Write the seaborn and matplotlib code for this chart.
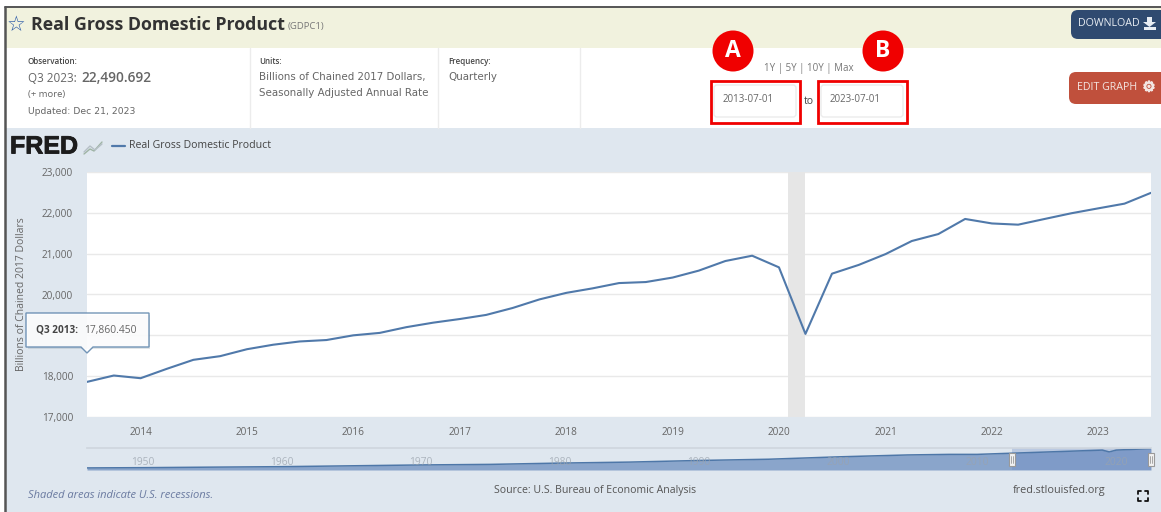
import pandas as pd
import seaborn as sns
import matplotlib.pyplot as plt
import matplotlib.dates as mdates
import matplotlib.patheffects as pe
from matplotlib.patches import Rectangle, Circle, FancyBboxPatch, Polygon
from matplotlib.ticker import FuncFormatter

# Quarterly real GDP, Q3 2013 to Q3 2023
QUARTERS = pd.date_range("2013-07-01", "2023-07-01", freq="QS")
GDP = [17860, 18016, 17950, 18180, 18400, 18490, 18660, 18770, 18850, 18885,
       19000, 19060, 19200, 19310, 19400, 19500, 19670, 19880, 20040, 20150,
       20280, 20305, 20415, 20585, 20820, 20950, 20665, 19035, 20510, 20725,
       20990, 21310, 21480, 21850, 21740, 21710, 21850, 21990, 22110, 22225,
       22490]

# Long history for the navigator strip
HIST_YEARS = [1946, 1950, 1955, 1960, 1965, 1970, 1975, 1980, 1985, 1990,
              1995, 2000, 2005, 2008, 2010, 2015, 2019, 2019.5, 2020, 2022.5]
HIST_GDP = [2180, 2460, 3000, 3500, 4400, 5300, 5900, 7250, 8300, 10000,
            11300, 13800, 15800, 16400, 16400, 18900, 20900, 19000, 20900, 22490]
NAV_TICKS = [1950, 1960, 1970, 1980, 1990, 2000, 2010, 2020]

Y_TICKS = [17000, 18000, 19000, 20000, 21000, 22000, 23000]
Y_HIDDEN = 19000  # label sits behind the tooltip in the reference
X_YEARS = list(range(2014, 2024))

W, H = 1161, 512
PANEL = "#dfe7ef"
LINE = "#5079aa"
TXT = "#666666"

sns.set_theme(style="white")
plt.rcParams["font.family"] = ["Open Sans", "DejaVu Sans"]

fig = plt.figure(figsize=(W / 100, H / 100), dpi=100, facecolor="white")


def px_axes(x0, y0, x1, y1, zorder):
    # axes placed by pixel box, y measured from the top of the figure
    return fig.add_axes([x0 / W, 1 - y1 / H, (x1 - x0) / W, (y1 - y0) / H], zorder=zorder)


# page furniture below the charts
bg = px_axes(0, 0, W, H, 0)
bg.set_xlim(0, W)
bg.set_ylim(H, 0)
bg.axis("off")
bg.add_patch(Rectangle((5, 8), W, 40, fc="#f1f2de", ec="none"))
bg.add_patch(Rectangle((5, 128), W, H, fc=PANEL, ec="none"))
bg.plot([5, 5], [7, H], color="#555555", lw=1.8)
bg.plot([5, W], [7, 7], color="#555555", lw=1.4)
for xd in [250, 438, 580]:
    bg.plot([xd, xd], [48, 128], color="#ececec", lw=1)

# main chart
df = pd.DataFrame({"date": QUARTERS, "gdp": GDP})
ax = px_axes(87, 172, 1151, 417, 1)
ax.set_facecolor("white")
ax.axvspan(pd.Timestamp("2020-02-01"), pd.Timestamp("2020-04-01"), color="#e6e6e6", lw=0, zorder=1)
sns.lineplot(data=df, x="date", y="gdp", ax=ax, color=LINE, lw=1.5, zorder=3)
ax.set_xlim(QUARTERS[0], QUARTERS[-1])
ax.set_ylim(17000, 23000)
ax.set_yticks(Y_TICKS)
ax.yaxis.set_major_formatter(FuncFormatter(lambda v, _: "" if v == Y_HIDDEN else f"{int(v):,}"))
ax.set_xticks([pd.Timestamp(f"{y}-01-01") for y in X_YEARS])
ax.xaxis.set_major_formatter(mdates.DateFormatter("%Y"))
ax.grid(axis="y", color="#e9e9e9", lw=1)
ax.set_axisbelow(True)
ax.tick_params(axis="y", length=0, labelsize=7.2, labelcolor=TXT, pad=10)
ax.tick_params(axis="x", length=6.5, width=1, color="#ccd6e4", labelsize=7.2, labelcolor=TXT, pad=1)
ax.set_xlabel("")
ax.set_ylabel("Billions of Chained 2017 Dollars", fontsize=7.5, color=TXT, labelpad=0)
ax.yaxis.set_label_coords(-60 / 1064, 0.5)
for s in ax.spines.values():
    s.set_visible(False)

# navigator strip
nav = px_axes(87, 448, 1151, 470, 1)
nav.set_facecolor("none")
nav.fill_between(HIST_YEARS, HIST_GDP, 0, color="#8aa5cb", lw=0)
sns.lineplot(x=HIST_YEARS, y=HIST_GDP, ax=nav, color="#4e77a8", lw=1.1)
nav.set_xlim(HIST_YEARS[0], HIST_YEARS[-1])
nav.set_ylim(0, 23100)
nav.set_xticks([])
nav.set_yticks([])
nav.set_xlabel("")
nav.set_ylabel("")
for s in nav.spines.values():
    s.set_visible(False)
nav.spines["top"].set_visible(True)
nav.spines["top"].set_color("#cfd6de")
for yr in NAV_TICKS:
    nav.text(yr, 0.33, str(yr), transform=nav.get_xaxis_transform(), ha="center", va="center",
             fontsize=7.4, color="#9aa3ad", alpha=0.75)
nav.axvspan(2012.5, HIST_YEARS[-1], color="#6685c2", alpha=0.3, lw=0)

# everything drawn on top: text, tooltip, buttons
top = px_axes(0, 0, W, H, 5)
top.set_xlim(0, W)
top.set_ylim(H, 0)
top.axis("off")


def label(x, y, s, size=7.5, color=TXT, **kw):
    kw.setdefault("va", "center")
    return top.text(x, y, s, fontsize=size, color=color, **kw)


label(16, 25, "\u2606", size=15, color="#2a5aa8", ha="center", family="DejaVu Sans", fontweight="bold")
label(31, 25, "Real Gross Domestic Product", size=12.8, color="#333333", fontweight="bold")
label(288, 27, "(GDPC1)", size=6.8, color="#777777")

label(28, 62, "Observation:", size=5.8, color="#444444", fontweight="semibold")
label(28, 78.5, "Q3 2023:", size=8.4)
label(81, 78.5, "22,490.692", size=9.8, fontweight="semibold")
label(28, 95, "(+ more)", size=6.8)
label(28, 111, "Updated: Dec 21, 2023", size=6.7, family="DejaVu Sans")
label(259, 62, "Units:", size=5.8, color="#444444", fontweight="semibold")
label(259, 77, "Billions of Chained 2017 Dollars,", size=7.4, family="DejaVu Sans")
label(259, 93, "Seasonally Adjusted Annual Rate", size=7.4, family="DejaVu Sans")
label(448, 62, "Frequency:", size=5.8, color="#444444", fontweight="semibold")
label(448, 77, "Quarterly", size=7.4, family="DejaVu Sans")

label(809, 69, "1Y | 5Y | 10Y | Max", size=7, color="#777777", ha="center")
for x0, date in [(712, "2013-07-01"), (819, "2023-07-01")]:
    top.add_patch(FancyBboxPatch((x0 + 2, 85), 82, 32, boxstyle="round,pad=0,rounding_size=3",
                                 fc="white", ec="#ececec", lw=1))
    label(x0 + 11, 100, date, size=7)
    top.add_patch(Rectangle((x0 - 1.5, 80.5), 89, 42, fc="none", ec="#f00000", lw=2))
label(809, 101, "to", size=7.5, color="#444444", ha="center")
for cx, letter in [(733, "A"), (883, "B")]:
    top.add_patch(Circle((cx, 51), 20.5, fc="#f00000", ec="none"))
    label(cx, 51, letter, size=16.5, color="white", ha="center", fontweight="bold")

top.add_patch(FancyBboxPatch((1071, 10), 100, 29, boxstyle="round,pad=0,rounding_size=7", fc="#2f4a70", ec="none"))
label(1078, 24, "DOWNLOAD", size=7.7, color="#e8edf3")
top.add_patch(Polygon([(1147, 17), (1152, 17), (1152, 22), (1156, 22), (1149.5, 27), (1143, 22), (1147, 22)],
                      fc="#e8edf3", ec="none"))
top.add_patch(Rectangle((1144, 27), 12, 3, fc="#e8edf3", ec="none"))
top.add_patch(FancyBboxPatch((1069, 72), 102, 32, boxstyle="round,pad=0,rounding_size=7", fc="#c0503c", ec="none"))
label(1077, 88, "EDIT GRAPH", size=7.7, color="#f3e6e2")
gear = label(1149, 87, "\u2699", size=10.5, color="#f3e6e2", ha="center", family="DejaVu Sans", fontweight="bold")
gear.set_path_effects([pe.withStroke(linewidth=0.8, foreground="#f3e6e2")])

# FRED logo and legend
logo = label(10, 146.5, "FRED", size=18, color="#1c1c1c", family="Liberation Sans", fontweight="bold")
logo.set_path_effects([pe.withStroke(linewidth=0.6, foreground="#1c1c1c")])
top.plot([84, 90, 94, 102], [154, 149, 151, 142], color="#9fb4a4", lw=1)
top.plot([84, 90, 95, 102], [152, 146, 150, 144], color="#b5bfc6", lw=1)
top.plot([112, 125], [146, 146], color=LINE, lw=1.6)
label(129, 146, "Real Gross Domestic Product", size=7.6, color="#444444")

# tooltip
top.add_patch(Rectangle((28, 315), 122, 34, fc="#8a98a6", alpha=0.25, ec="none"))
top.add_patch(Polygon([(26, 313), (149, 313), (149, 347), (93, 347), (87, 353), (81, 347), (26, 347)],
                      fc="white", alpha=0.88, ec="#5f86ad", lw=1))
label(36, 330, "Q3 2013:", size=7.2, color="#444444", fontweight="bold")
label(84, 330, "17,860.450", size=7.4)

# navigator handles
for hx in [1012, 1151]:
    top.add_patch(Rectangle((hx - 3, 453), 6, 13, fc="#f2f2f2", ec="#999999", lw=0.8))
    top.plot([hx - 1, hx - 1], [456, 463], color="#888888", lw=0.5)
    top.plot([hx + 1, hx + 1], [456, 463], color="#888888", lw=0.5)

label(28, 495, "Shaded areas indicate U.S. recessions.", size=8, color="#6a7aa0", style="italic")
label(595, 491, "Source: U.S. Bureau of Economic Analysis", size=7.6, ha="center", color="#555555")
label(1013, 491, "fred.stlouisfed.org", size=7.8, color="#555555")
for cx, cy, dx, dy in [(1138, 491, 1, 1), (1148, 491, -1, 1), (1138, 501, 1, -1), (1148, 501, -1, -1)]:
    top.plot([cx + 3 * dx, cx, cx], [cy, cy, cy + 3 * dy], color="#111111", lw=1.3)

fig.savefig("out.png", dpi=100)
